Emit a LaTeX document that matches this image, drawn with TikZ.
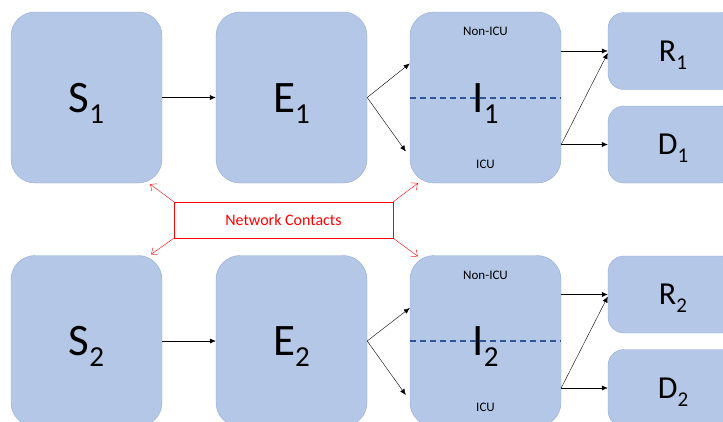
\documentclass[tikz,border=0pt]{standalone}
\usepackage{fontspec}
\setmainfont{Carlito}
\usetikzlibrary{arrows.meta}
\definecolor{boxfill}{HTML}{B4C7E7}
\definecolor{boxline}{HTML}{8FAADC}
\definecolor{splitline}{HTML}{2F5597}
\newcommand\cmp[2]{{\fontsize{45}{45}\selectfont #1}\raisebox{-11pt}{\fontsize{29}{29}\selectfont #2}}
\newcommand\cmpsm[2]{{\fontsize{32}{32}\selectfont #1}\raisebox{-8pt}{\fontsize{21}{21}\selectfont #2}}

\begin{document}
\begin{tikzpicture}[x=1pt,y=-1pt,
	comp/.style={draw=boxline,fill=boxfill,rounded corners=24pt,minimum width=151pt,minimum height=171pt,inner sep=0pt,text height=29pt,text depth=0pt},
	outc/.style={draw=boxline,fill=boxfill,rounded corners=16pt,minimum width=130pt,minimum height=77pt,inner sep=0pt,text height=20pt,text depth=0pt},
	flow/.style={-{Latex[length=6pt,width=5pt]},black,thin},
	contact/.style={-{Straight Barb[length=5pt,width=9pt]},red,thin},
	split/.style={splitline,dash pattern=on 6pt off 4pt,line width=1.2pt},
	ward/.style={font=\fontsize{13}{13}\selectfont}]
	\clip (0,0) rectangle (723,421);

	% upper population
	\node[comp] (S1) at (86.5,97.5) {\cmp{S}{1}};
	\node[comp] (E1) at (291.5,97.5) {\cmp{E}{1}};
	\node[comp] (I1) at (485.5,97.5) {\cmp{I}{1}};
	\node[outc] (R1) at (673,51) {\cmpsm{R}{1}};
	\node[outc] (D1) at (673,144.5) {\cmpsm{D}{1}};
	\draw[split] ([yshift=-0.5pt]I1.west) -- ([yshift=-0.5pt]I1.east);
	\node[ward] (nonicu1) at ([yshift=-20pt]I1.north) {Non-ICU};
	\node[ward] (icu1) at ([yshift=19pt]I1.south) {ICU};

	% lower population
	\node[comp] (S2) at (86.5,341) {\cmp{S}{2}};
	\node[comp] (E2) at (291.5,341) {\cmp{E}{2}};
	\node[comp] (I2) at (485.5,341) {\cmp{I}{2}};
	\node[outc] (R2) at (673,294.5) {\cmpsm{R}{2}};
	\node[outc] (D2) at (673,388) {\cmpsm{D}{2}};
	\draw[split] (I2.west) -- (I2.east);
	\node[ward] (nonicu2) at ([yshift=-20pt]I2.north) {Non-ICU};
	\node[ward] (icu2) at ([yshift=19pt]I2.south) {ICU};

	% flows
	\draw[flow] (S1) -- (E1);
	\draw[flow] (E1.east) -- ([yshift=34pt]I1.west);
	\draw[flow] (E1.east) -- ([xshift=-4pt,yshift=-54pt]I1.west);
	\draw[flow] (I1.east |- R1.west) -- (R1.west);
	\draw[flow] (I1.east |- D1.west) -- ([yshift=-2pt]R1.west);
	\draw[flow] (I1.east |- D1.west) -- (D1.west);

	\draw[flow] (S2) -- (E2);
	\draw[flow] (E2.east) -- ([yshift=33pt]I2.west);
	\draw[flow] (E2.east) -- ([xshift=-4pt,yshift=-54pt]I2.west);
	\draw[flow] (I2.east |- R2.west) -- (R2.west);
	\draw[flow] (I2.east |- D2.west) -- ([yshift=-2pt]R2.west);
	\draw[flow] (I2.east |- D2.west) -- (D2.west);

	% contacts between the two
	\node[draw=red,thin,text=red,minimum width=219pt,minimum height=36pt,inner sep=0pt,font=\fontsize{16}{16}\selectfont] (net) at (283.5,220) {Network Contacts};
	\draw[contact] (net.north west) -- ([xshift=-12pt,yshift=-1pt]S1.south east);
	\draw[contact] (net.north east) -- ([xshift=8pt]I1.south west);
	\draw[contact] (net.south west) -- ([xshift=-11pt,yshift=1pt]S2.north east);
	\draw[contact] (net.south east) -- ([xshift=8pt,yshift=-1pt]I2.north west);
\end{tikzpicture}
\end{document}
